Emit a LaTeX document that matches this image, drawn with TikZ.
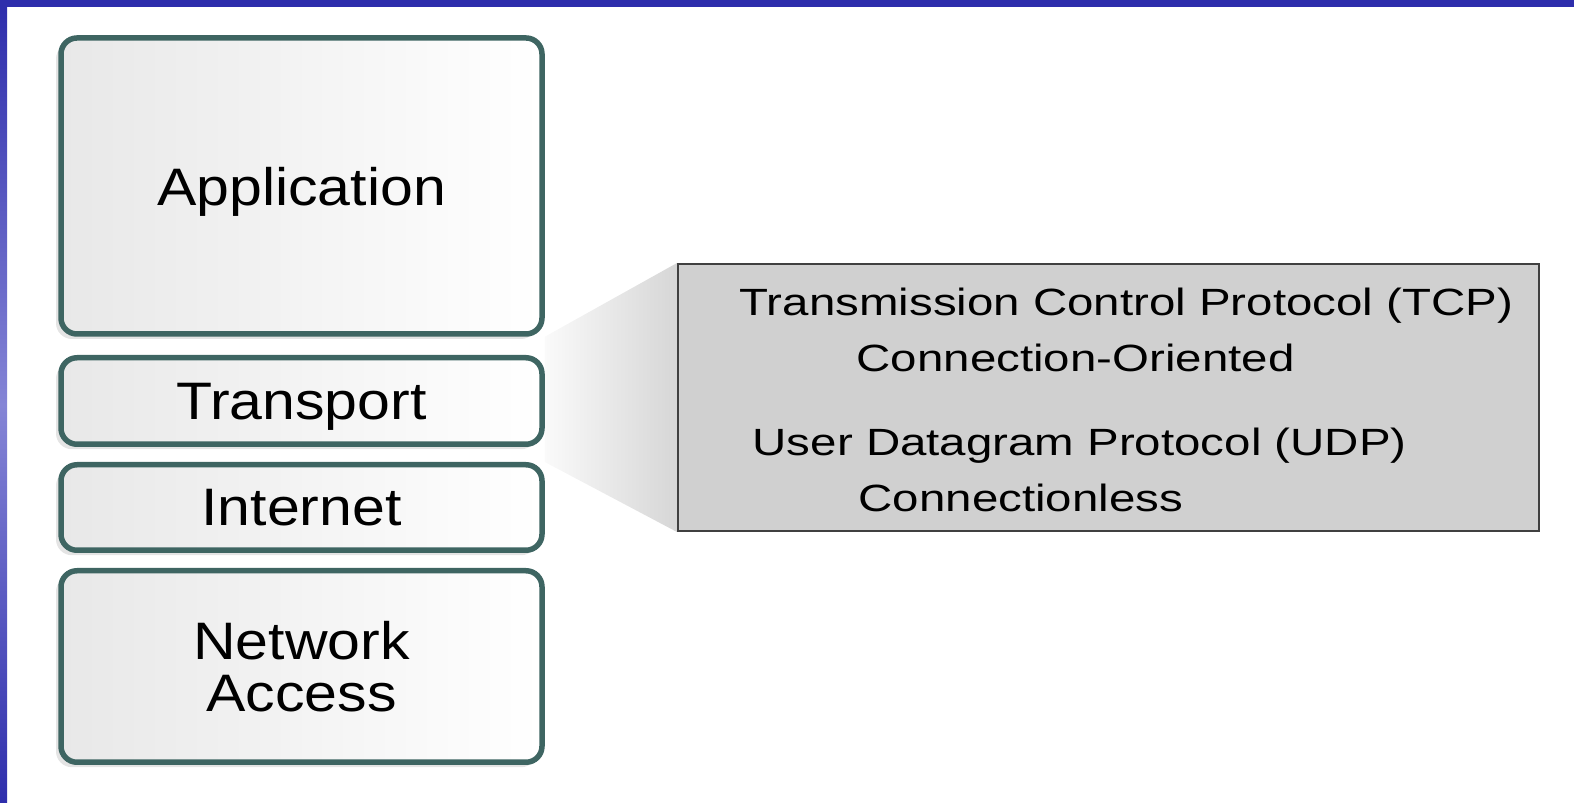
\documentclass[tikz,border=0pt]{standalone}
\usepackage{fontspec}
\setmainfont{Liberation Sans}
\newfontfamily\layerfont{Liberation Sans}[FakeStretch=1.12]
\newfontfamily\protofont{Liberation Sans}[FakeStretch=1.25]
\usepackage{xcolor}
\usetikzlibrary{shadows,backgrounds}

\definecolor{slideblue}{HTML}{2E2EAC}
\definecolor{slidelight}{HTML}{8585D6}
\definecolor{layeredge}{HTML}{3E6562}
\definecolor{protofill}{HTML}{D0D0D0}

\tikzset{
    layer/.style={draw=layeredge, line width=0.055cm, rounded corners=0.16cm,
        left color=gray!18, right color=white, minimum width=4.81cm,
        font=\layerfont\fontsize{15}{15}\selectfont, align=center, text depth=0pt,
        drop shadow={shadow xshift=-0.05cm, shadow yshift=-0.05cm, fill=gray!60, opacity=0.35}},
    protoline/.style={anchor=base west, inner sep=0pt,
        font=\protofont\fontsize{10.8}{13}\selectfont}
}

\begin{document}
\begin{tikzpicture}
    \useasboundingbox (0,0) rectangle (15.74,8.03);

    % Slide frame
    \fill[slideblue] (0,7.96) rectangle (15.74,8.03);
    \shade[top color=slideblue, bottom color=slideblue, middle color=slidelight] (0,0) rectangle (0.07,7.96);

    % Layers
    \node[layer, minimum height=2.96cm] (app) at (3.015,6.17) {Application};
    \node[layer, minimum height=0.865cm] (trans) at (3.015,4.02) {Transport};
    \node[layer, minimum height=0.855cm] (inet) at (3.015,2.955) {Internet};
    \node[layer, minimum height=1.915cm] (netacc) at (3.015,1.365) {Network\\Access};

    % Protocol box
    \node[draw=black!75, line width=0.02cm, fill=protofill, minimum width=8.61cm, minimum height=2.67cm] (proto) at (11.085,4.055) {};
    \node[protoline] (tcp) at (7.39,4.87) {Transmission Control Protocol (TCP)};
    \node[protoline] (tcpmode) at (8.56,4.31) {Connection-Oriented};
    \node[protoline] (udp) at (7.52,3.47) {User Datagram Protocol (UDP)};
    \node[protoline] (udpmode) at (8.58,2.91) {Connectionless};

    % Callout
    \begin{scope}[on background layer]
        \shade[left color=gray!4, right color=gray!32] (app.south east) -- (proto.north west) -- (proto.south west) -- (inet.north east) -- cycle;
    \end{scope}
\end{tikzpicture}
\end{document}
